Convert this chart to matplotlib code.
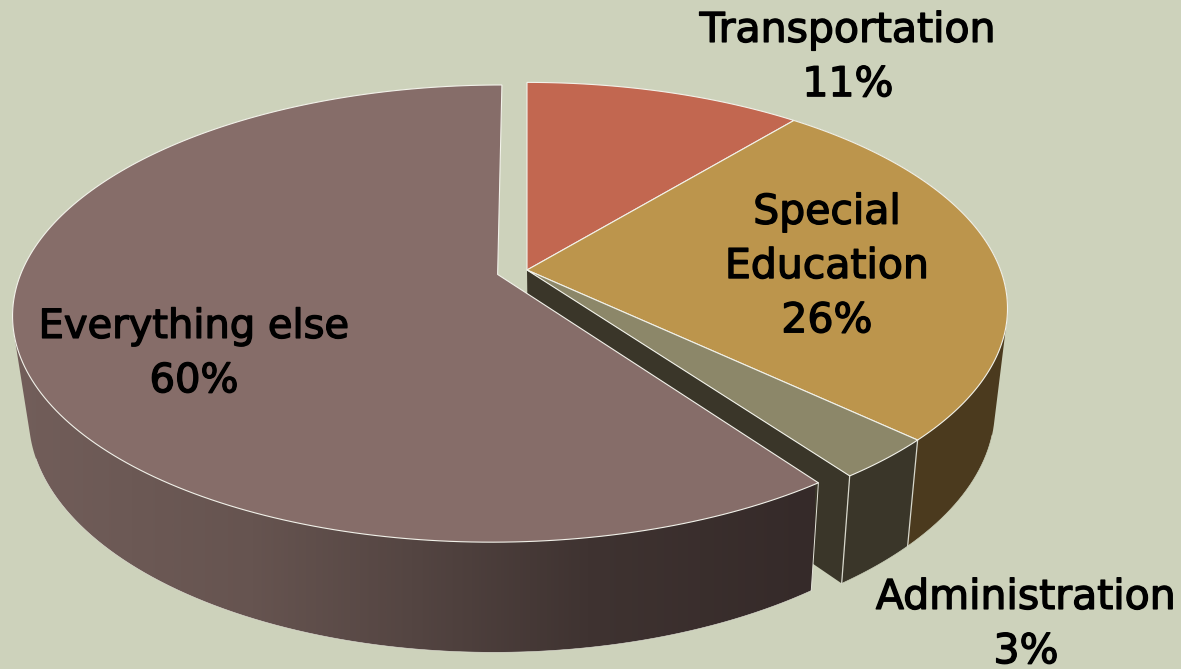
import numpy as np
import matplotlib
matplotlib.use('Agg')
import matplotlib.pyplot as plt
from matplotlib.colors import LinearSegmentedColormap
from matplotlib.patches import Polygon
import matplotlib.patheffects as pe

# slices, clockwise from 12 o'clock
labels = ['Transportation', 'Special\nEducation', 'Administration', 'Everything else']
shares = [11, 26, 3, 60]
explode = [0, 0, 0, 0.065]

top_colors = ['#C26750', '#BC954C', '#8C8769', '#866D69']
wall_colors = ['#7A4030', '#4B3A1E', '#3A3629', '#6E5A57']
label_pos = [(848, 58), (827, 267), (1026, 625), (194, 354)]
label_size = [29.5, 29.5, 29.5, 28.8]

BG = '#CDD2BB'
CX, CY = 527, 270     # pie centre on screen
R, H, K = 473.5, 219.5, 0.17   # perspective of the top face


def rim(theta, off=(0, 0), r=1.0):
    """point of the top face, theta in degrees clockwise from the top"""
    t = np.radians(theta)
    u = r * np.sin(t) + off[0]
    v = r * np.cos(t) + off[1]
    d = 1 + K * v
    return np.column_stack([CX + R * u / d, CY - H * v / d])


def lower(pts):
    # same points on the bottom of the pie
    x = 573 + 0.971 * (pts[:, 0] - 573)
    y = pts[:, 1] * 1.04 + 88.5
    return np.column_stack([x, y])


def hull(pts):
    # convex outline, gives the straight side of the pie between both rims
    pts = sorted(map(tuple, pts))

    def half(seq):
        out = []
        for p in seq:
            while len(out) > 1 and ((out[-1][0] - out[-2][0]) * (p[1] - out[-2][1])
                                    - (out[-1][1] - out[-2][1]) * (p[0] - out[-2][0])) <= 0:
                out.pop()
            out.append(p)
        return out[:-1]

    return np.array(half(pts) + half(pts[::-1]))


fig = plt.figure(figsize=(11.81, 6.69), dpi=100, facecolor=BG)
ax = fig.add_axes([0, 0, 1, 1])
ax.set_axis_off()

edge = dict(edgecolor='#F2F2EA', linewidth=0.8)

bounds = np.cumsum([0] + shares) * 3.6
offsets = []
for i in range(len(shares)):
    mid = np.radians((bounds[i] + bounds[i + 1]) / 2)
    offsets.append((explode[i] * np.sin(mid), explode[i] * np.cos(mid)))

# outer wall of special education and administration
for i in [1, 2]:
    th = np.linspace(bounds[i], bounds[i + 1], 80)
    top = rim(th, offsets[i])
    ax.add_patch(Polygon(hull(np.vstack([top, lower(top)])),
                         facecolor=wall_colors[i], edgecolor='none'))
    front = th >= 105
    ax.plot(*lower(top[front]).T, color=BG, lw=0.5)

# cut face left open by the exploded slice
a = rim(bounds[3], offsets[2], r=0)
b = rim(bounds[3], offsets[2])
cut = np.vstack([a, b, lower(b), lower(a)])
ax.add_patch(Polygon(cut, facecolor=wall_colors[2], edgecolor='none'))

# separators on the walls
for th in [bounds[2], bounds[3]]:
    p = rim(th)
    q = lower(p)
    ax.plot([p[0, 0], q[0, 0]], [p[0, 1], q[0, 1]], color='#D8D8CC', lw=0.9)

# exploded slice wall, gradient left to right
th = np.linspace(bounds[3], 270, 200)
top = rim(th, offsets[3], r=1.004)
outline = hull(np.vstack([top, lower(top)]))
wall_cmap = LinearSegmentedColormap.from_list(
    'wall', [(0, '#725E5A'), (0.3, '#665450'), (0.5, '#544542'),
             (0.72, '#3F3331'), (1, '#352A29')])
img = ax.imshow(np.linspace(0, 1, 400)[None, :], cmap=wall_cmap, aspect='auto',
                extent=(10, 815, 660, 300), zorder=2)
clip = Polygon(outline, facecolor='none', edgecolor='none', transform=ax.transData)
ax.add_patch(clip)
img.set_clip_path(clip)
ax.plot(*lower(top[th <= 250]).T, color='#E4E4DA', lw=0.4, zorder=2)
ax.plot([top[0, 0], lower(top)[0, 0]], [top[0, 1], lower(top)[0, 1]],
        color='#E4E4DA', lw=0.7, zorder=2)

# top faces
for i in range(len(shares)):
    th = np.linspace(bounds[i], bounds[i + 1], 200)
    r = 1.004 if explode[i] else 1.0
    pts = np.vstack([rim(0, offsets[i], r=0), rim(th, offsets[i], r=r)])
    ax.add_patch(Polygon(pts, facecolor=top_colors[i], zorder=3, **edge))

# text
for i in range(len(shares)):
    ax.text(label_pos[i][0], label_pos[i][1], f'{labels[i]}\n{shares[i]}%',
            ha='center', va='center', fontsize=label_size[i], linespacing=1.46,
            family='DejaVu Sans', color='black', zorder=5,
            path_effects=[pe.withStroke(linewidth=1, foreground='black')])

ax.set_xlim(0, 1181)
ax.set_ylim(669, 0)
fig.savefig('out.png', dpi=100, facecolor=BG)
